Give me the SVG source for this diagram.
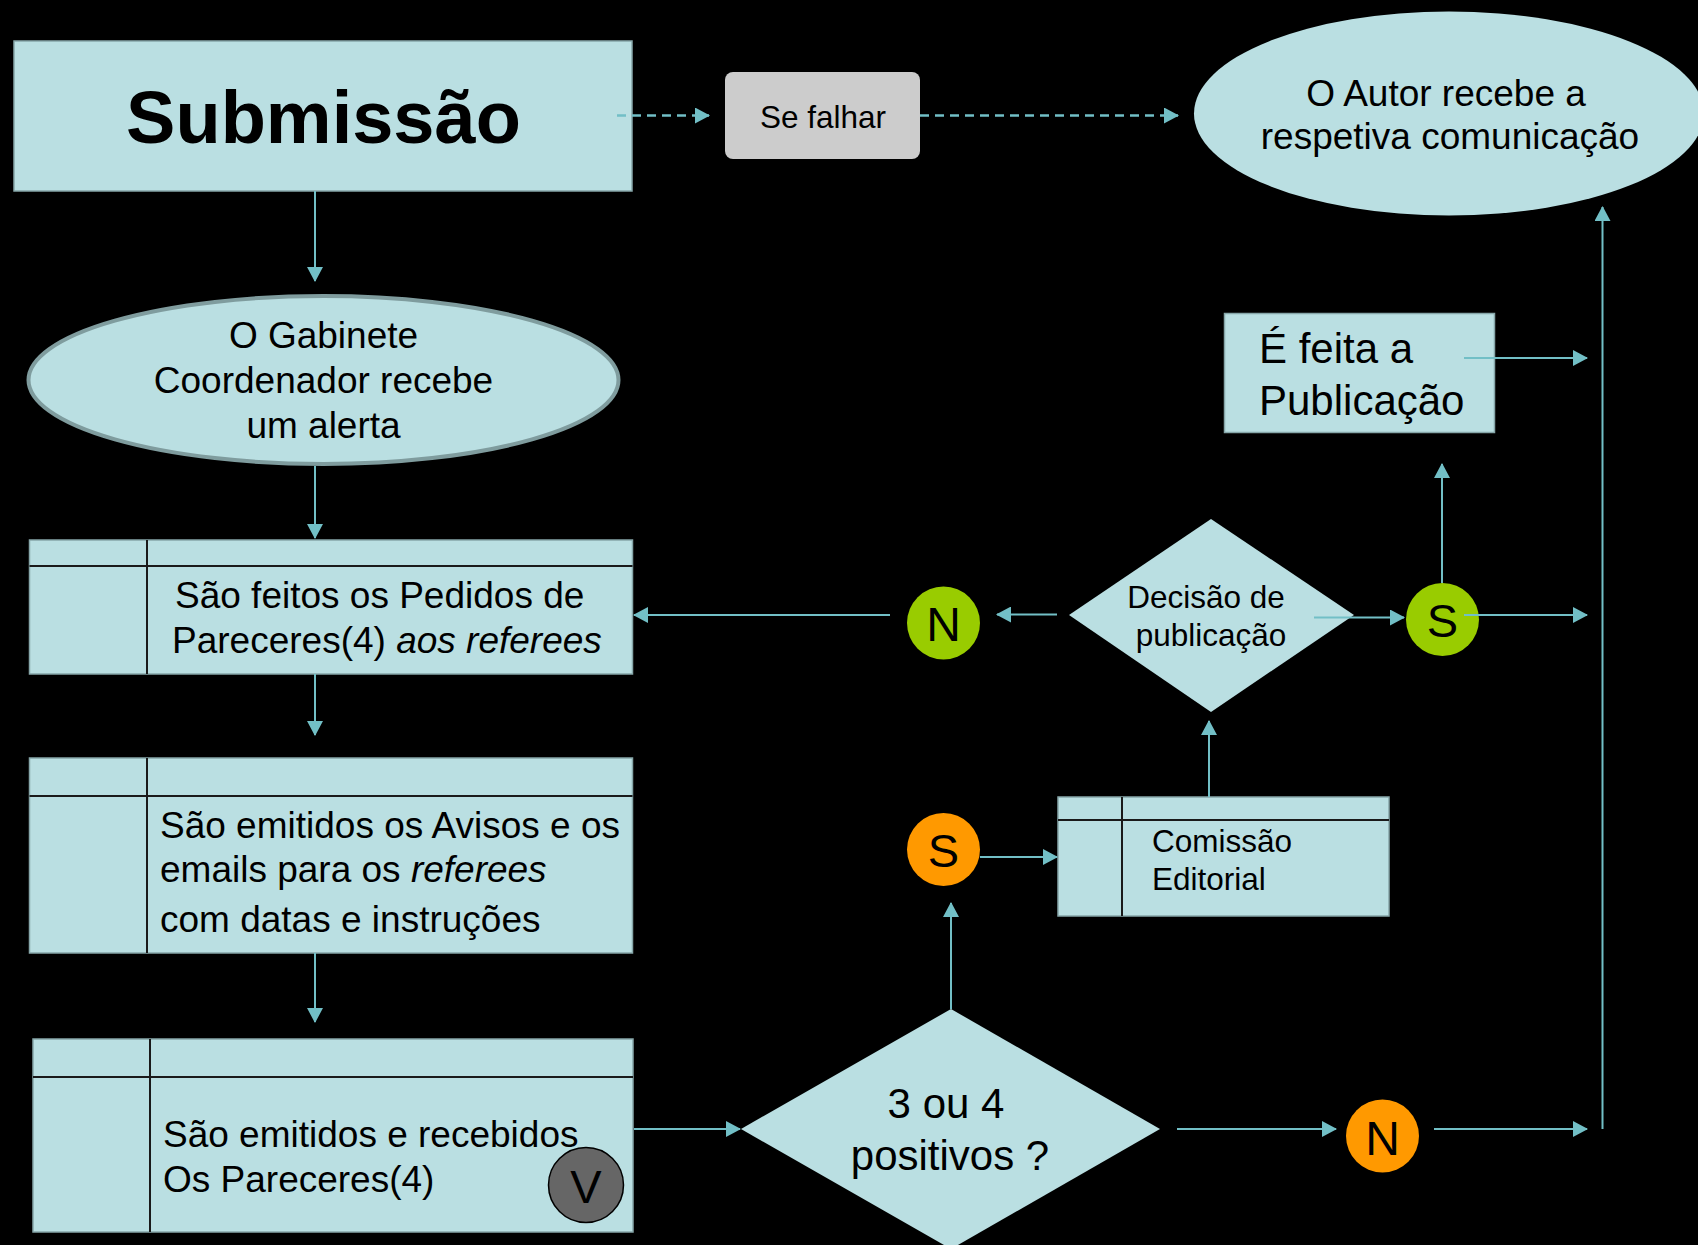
<svg xmlns="http://www.w3.org/2000/svg" width="1698" height="1245" viewBox="0 0 1698 1245">
<defs>
<style>
.box{fill:#badfe2;stroke:#86a6a9;stroke-width:1.5}
.div{stroke:#1a1a1a;stroke-width:2;fill:none}
.t{font-family:"Liberation Sans",Arial,sans-serif;fill:#000}
.c{stroke:#72bfc6;stroke-width:2;fill:none}
.d{stroke:#72bfc6;stroke-width:2.5;fill:none;stroke-dasharray:9 6}
.arr{marker-end:url(#ah)}
.green{fill:#99cc00}
.orange{fill:#ff9900}
</style>
<marker id="ah" markerUnits="userSpaceOnUse" markerWidth="16" markerHeight="16" refX="14" refY="8" orient="auto">
<path d="M0,0 L15,8 L0,16 z" fill="#72bfc6"/>
</marker>
</defs>
<rect width="1698" height="1245" fill="#000"/>

<g id="submissao">
<rect class="box" x="14" y="41" width="618" height="150"/>
<text class="t" x="323.5" y="143" font-size="74" font-weight="bold" text-anchor="middle">Submissão</text>
</g>

<g id="se-falhar">
<rect x="725" y="72" width="195" height="87" rx="8" fill="#cccccc"/>
<text class="t" x="823" y="128" font-size="31.5" text-anchor="middle">Se falhar</text>
</g>

<g id="autor">
<ellipse cx="1449" cy="113.5" rx="255" ry="102" fill="#badfe2"/>
<text class="t" font-size="37" text-anchor="middle"><tspan x="1446" y="106">O Autor recebe a</tspan><tspan x="1450" y="149">respetiva comunicação</tspan></text>
</g>

<g id="gabinete">
<ellipse cx="323.5" cy="380" rx="295" ry="84" fill="#badfe2" stroke="#7f9c9e" stroke-width="4"/>
<text class="t" font-size="37" text-anchor="middle"><tspan x="323.5" y="348">O Gabinete</tspan><tspan x="323.5" y="393">Coordenador recebe</tspan><tspan x="323.5" y="438">um alerta</tspan></text>
</g>

<g id="pedidos">
<rect class="box" x="29.5" y="540" width="603" height="134"/>
<path class="div" d="M147,540 V674 M29.5,566 H632.5"/>
<text class="t" font-size="37"><tspan x="175" y="608">São feitos os Pedidos de</tspan><tspan x="172" y="653">Pareceres(4) <tspan font-style="italic">aos referees</tspan></tspan></text>
</g>

<g id="avisos">
<rect class="box" x="29.5" y="758" width="603" height="195"/>
<path class="div" d="M147,758 V953 M29.5,796 H632.5"/>
<text class="t" font-size="37"><tspan x="160" y="838">São emitidos os Avisos e os</tspan><tspan x="160" y="882">emails para os <tspan font-style="italic">referees</tspan></tspan><tspan x="160" y="932">com datas e instruções</tspan></text>
</g>

<g id="pareceres">
<rect class="box" x="33" y="1039" width="600" height="193"/>
<path class="div" d="M150,1039 V1232 M33,1077 H633"/>
<text class="t" font-size="37"><tspan x="163" y="1147">São emitidos e recebidos</tspan><tspan x="163" y="1192">Os Pareceres(4)</tspan></text>
</g>

<g id="v-marker">
<circle cx="586" cy="1185" r="37.5" fill="#666666" stroke="#000" stroke-width="1.5"/>
<text class="t" x="586" y="1203" font-size="47" text-anchor="middle">V</text>
</g>

<g id="positivos">
<polygon points="951,1009 1160,1129 951,1249 741,1129" fill="#badfe2"/>
<text class="t" font-size="42" text-anchor="middle"><tspan x="946" y="1118">3 ou 4</tspan><tspan x="950" y="1170">positivos ?</tspan></text>
</g>

<g id="n-orange">
<circle class="orange" cx="1382.5" cy="1136" r="36.5"/>
<text class="t" x="1382.5" y="1155" font-size="48" text-anchor="middle">N</text>
</g>

<g id="s-orange">
<circle class="orange" cx="943.5" cy="849.5" r="36.5"/>
<text class="t" x="943.5" y="867" font-size="47" text-anchor="middle">S</text>
</g>

<g id="comissao">
<rect class="box" x="1058" y="797" width="331" height="119"/>
<path class="div" d="M1122,797 V916 M1058,820 H1389"/>
<text class="t" font-size="31.5"><tspan x="1152" y="852">Comissão</tspan><tspan x="1152" y="890">Editorial</tspan></text>
</g>

<g id="decisao">
<polygon points="1211,519 1354,615 1211,712 1069,615" fill="#badfe2"/>
<text class="t" font-size="31.5" text-anchor="middle"><tspan x="1206" y="608">Decisão de</tspan><tspan x="1211" y="646">publicação</tspan></text>
</g>

<g id="n-green">
<circle class="green" cx="943.5" cy="623" r="36.5"/>
<text class="t" x="943.5" y="641" font-size="48" text-anchor="middle">N</text>
</g>

<g id="s-green">
<circle class="green" cx="1442.5" cy="619.5" r="36.5"/>
<text class="t" x="1442.5" y="637" font-size="47" text-anchor="middle">S</text>
</g>

<g id="publicacao">
<rect class="box" x="1224.5" y="313.5" width="270" height="119"/>
<text class="t" font-size="42"><tspan x="1259" y="363">É feita a</tspan><tspan x="1259" y="415">Publicação</tspan></text>
</g>

<g id="connectors">
<line class="d arr" x1="617" y1="115.5" x2="709" y2="115.5"/>
<line class="d arr" x1="920" y1="115.5" x2="1178" y2="115.5"/>
<line class="c arr" x1="315" y1="191" x2="315" y2="281"/>
<line class="c arr" x1="315" y1="466" x2="315" y2="538"/>
<line class="c arr" x1="315" y1="674" x2="315" y2="735"/>
<line class="c arr" x1="315" y1="953" x2="315" y2="1022"/>
<line class="c arr" x1="634" y1="1129" x2="740" y2="1129"/>
<line class="c arr" x1="1177" y1="1129" x2="1336" y2="1129"/>
<line class="c arr" x1="1434" y1="1129" x2="1587" y2="1129"/>
<line class="c arr" x1="1602.5" y1="1129" x2="1602.5" y2="207"/>
<line class="c arr" x1="951" y1="1009" x2="951" y2="903"/>
<line class="c arr" x1="980" y1="857" x2="1057" y2="857"/>
<line class="c arr" x1="1209" y1="797" x2="1209" y2="721"/>
<line class="c arr" x1="1057" y1="614.5" x2="997" y2="614.5"/>
<line class="c arr" x1="890" y1="615" x2="634" y2="615"/>
<line class="c arr" x1="1314" y1="617.5" x2="1404" y2="617.5"/>
<line class="c arr" x1="1464" y1="615" x2="1587" y2="615"/>
<line class="c arr" x1="1442" y1="583" x2="1442" y2="464"/>
<line class="c arr" x1="1464" y1="358" x2="1587" y2="358"/>
</g>
</svg>
